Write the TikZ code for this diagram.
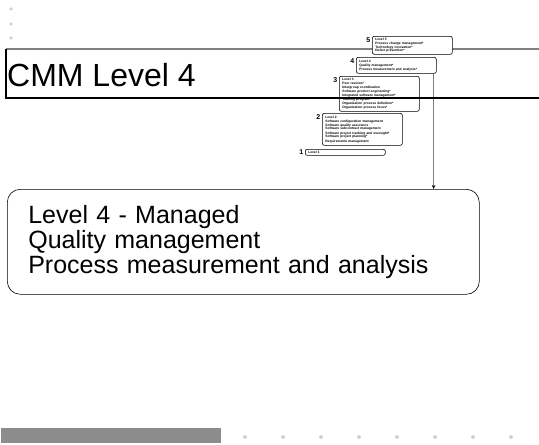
\documentclass[tikz,border=0pt]{standalone}
\usepackage{fontspec}
\setmainfont{Liberation Sans}
\usepackage{tikz}
\usetikzlibrary{shapes,arrows,positioning,calc,arrows.meta}
\definecolor{rulegray}{HTML}{808080}
\definecolor{bargray}{HTML}{8C8C8C}
\definecolor{dotgray}{HTML}{D2D2D2}

\begin{document}
\begin{tikzpicture}[x=1pt,y=-1pt,
    lvl/.style={draw, fill=white, rounded corners=2pt, line width=0.6pt, anchor=north west,
      minimum width=80pt, text width=74pt, inner xsep=3pt, inner ysep=1pt, align=left,
      font=\fontsize{3.3}{3.6}\selectfont\bfseries},
    num/.style={anchor=north east, inner sep=1.5pt, font=\fontsize{7}{7}\selectfont\bfseries}]
    \useasboundingbox (0,0) rectangle (539,445);
    % bullets top left
    \foreach \y in {9,24,38} \fill[dotgray] (11,\y) circle (1.8);
    % title frame, upper rule
    \draw[rulegray, line width=1.2pt] (6,49) -- (539,49);
    \node[anchor=base west, inner sep=0pt, font=\fontsize{32}{32}\selectfont] (title) at (7,86) {CMM Level 4};
    % maturity levels
    \node[lvl, minimum height=18pt] (lfive) at (372,36) {Level 5\\[0.8pt] Process change management*\\ Technology innovation*\\ Defect prevention*};
    \node[num] (nfive) at (lfive.north west) {5};
    \node[lvl, minimum height=16pt] (lfour) at (356,57) {Level 4\\[0.8pt] Quality management*\\ Process measurement and analysis*};
    \node[num] (nfour) at (lfour.north west) {4};
    \node[lvl, minimum height=35pt] (lthree) at (339,76) {Level 3\\ Peer reviews*\\[0.8pt] Intergroup coordination\\ Software product engineering*\\ Integrated software management*\\[0.8pt] Training program\\ Organization process definition*\\[0.8pt] Organization process focus*};
    \node[num] (nthree) at (lthree.north west) {3};
    \node[lvl, minimum height=32pt] (ltwo) at (322,113) {Level 2\\[0.8pt] Software configuration management\\ Software quality assurance\\ Software subcontract management\\[0.8pt] Software project tracking and oversight*\\ Software project planning*\\[0.8pt] Requirements management};
    \node[num] (ntwo) at (ltwo.north west) {2};
    \node[lvl, minimum height=6pt] (lone) at (305,149) {Level 1};
    \node[num, anchor=east] (none) at (lone.west) {1};
    % level 4 detail
    \node[draw, rounded corners=13pt, line width=0.6pt, anchor=north west, minimum width=472pt, minimum height=105pt,
      text width=430pt, inner xsep=20pt, align=left, font=\fontsize{25}{25}\selectfont] (managed) at (7,189)
      {Level 4 - Managed\\ Quality management\\ Process measurement and analysis};
    \draw[rulegray, line width=0.8pt, -{Stealth[length=4pt,width=3.5pt,color=black]}]
      ([xshift=-3pt]lfour.south east) -- ([xshift=-3pt]lfour.south east |- managed.north);
    % title frame, lower rule
    \draw[line width=1.2pt] (539,98) -- (6,98) -- (6,49);
    % footer
    \fill[bargray] (1,428) rectangle (221,443);
    \foreach \x in {245,283,321,359,397,435,473,511} \fill[dotgray] (\x,437) circle (2);
\end{tikzpicture}
\end{document}
